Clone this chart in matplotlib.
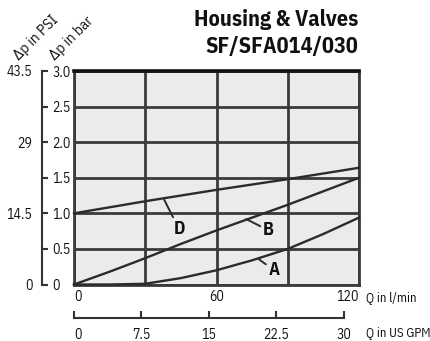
import matplotlib
matplotlib.use('Agg')
import matplotlib.pyplot as plt

FONT = ['IBM Plex Sans Condensed', 'Roboto Condensed', 'PT Sans Narrow', 'DejaVu Sans']
plt.rcParams['font.family'] = FONT

# ---- data ----
flow_lpm = [0, 15, 30, 45, 60, 75, 90, 105, 120]
curve_A = [0, 0.0, 0.01, 0.09, 0.2, 0.34, 0.5, 0.71, 0.94]
curve_B = [0, 0.18, 0.37, 0.57, 0.76, 0.94, 1.12, 1.31, 1.5]
curve_D = [1.0, 1.085, 1.17, 1.25, 1.33, 1.405, 1.48, 1.56, 1.64]

curve_names = ['A', 'B', 'D']
# point on the curve where the leader starts, and label centre (data units)
leader_xy = {'D': (38, 1.19), 'B': (72.5, 0.92), 'A': (77.6, 0.36)}
label_xy = {'D': (44.2, 0.78), 'B': (81.9, 0.76), 'A': (84.3, 0.20)}

q_grid = [0, 30, 60, 90, 120]
q_labels = ['0', '', '60', '', '120']
bar_ticks = [0, 0.5, 1.0, 1.5, 2.0, 2.5, 3.0]
bar_labels = ['0', '0.5', '1.0', '1.5', '2.0', '2.5', '3.0']
psi_ticks = [0, 14.5, 29, 43.5]
psi_labels = ['0', '14.5', '29', '43.5']
gpm_ticks = [0, 7.5, 15, 22.5, 30]
gpm_labels = ['0', '7.5', '15', '22.5', '30']
LPM_PER_GPM = 3.785

title_lines = ['Housing & Valves', 'SF/SFA014/030']

# ---- layout ----
W, H = 430, 341
fig = plt.figure(figsize=(W / 100, H / 100), dpi=100)
fig.patch.set_facecolor('white')
L, R, T, B = 74, 359, 71, 284.5
GRID = '#3a3a3a'
INK = '#2b2b2b'
FS = 10

ax = fig.add_axes([L / W, 1 - B / H, (R - L) / W, (B - T) / H])
ax.set_facecolor('#ebebeb')
ax.set_xlim(0, 120)
ax.set_ylim(0, 3)
ax.set_xticks(q_grid)
ax.set_xticklabels(q_labels)
ax.set_yticks(bar_ticks)
ax.set_yticklabels([])
ax.tick_params(length=0)
ax.tick_params(axis='x', pad=4, labelsize=FS, colors='#111')
xl = ax.get_xticklabels()
xl[0].set_ha('left')
xl[-1].set_ha('right')
ax.grid(True, color=GRID, lw=2)
ax.set_axisbelow(True)
for s in ax.spines.values():
    s.set_color(GRID)
    s.set_linewidth(2)
ax.spines['top'].set_color('#111')
ax.spines['top'].set_linewidth(2.6)

series = {'A': curve_A, 'B': curve_B, 'D': curve_D}
for name in curve_names:
    ax.plot(flow_lpm, series[name], color=INK, lw=1.7, zorder=3, clip_on=False)
    ax.annotate(name, xy=leader_xy[name], xytext=label_xy[name],
                ha='center', va='center', fontsize=13, fontweight='bold',
                color='#111',
                arrowprops=dict(arrowstyle='-', color=INK, lw=1.4,
                                shrinkA=0, shrinkB=0))

# left double scale (bar on right of spine, PSI on left)
axL = fig.add_axes([42 / W, 1 - B / H, 0.0001, (B - T) / H])
axL.set_ylim(0, 3)
axL.set_xticks([])
for k in ['top', 'right', 'bottom']:
    axL.spines[k].set_visible(False)
axL.spines['left'].set_color('#333')
axL.spines['left'].set_linewidth(1.5)
axL.set_yticks(bar_ticks)
axL.set_yticklabels(bar_labels)
axL.tick_params(axis='y', direction='in', length=4, width=1.5, color='#333',
                pad=-7.5, labelsize=FS, labelcolor='#111')
for t in axL.get_yticklabels():
    t.set_ha('left')

axP = fig.add_axes([42 / W, 1 - B / H, 0.0001, (B - T) / H])
axP.patch.set_visible(False)
axP.set_ylim(0, 43.5)
axP.set_xticks([])
for s in axP.spines.values():
    s.set_visible(False)
axP.set_yticks(psi_ticks)
axP.set_yticklabels(psi_labels)
axP.tick_params(axis='y', length=0, pad=7, labelsize=FS, labelcolor='#111')

# GPM scale below
axG = fig.add_axes([L / W, 1 - 318 / H, (R - L) / W, 0.0001])
axG.set_xlim(0, 120 / LPM_PER_GPM)
axG.set_yticks([])
for k in ['top', 'right', 'left']:
    axG.spines[k].set_visible(False)
axG.spines['bottom'].set_bounds(0, 30)
axG.spines['bottom'].set_color('#333')
axG.spines['bottom'].set_linewidth(1.5)
axG.set_xticks(gpm_ticks)
axG.set_xticklabels(gpm_labels)
axG.tick_params(axis='x', direction='in', length=5, width=1.5, color='#333',
                pad=7, labelsize=FS, labelcolor='#111')
axG.get_xticklabels()[0].set_ha('left')

# axis unit texts
fig.text(366 / W, 1 - 298 / H, 'Q in l/min', ha='left', va='center',
         fontsize=9.2, color='#111')
fig.text(366 / W, 1 - 333 / H, 'Q in US GPM', ha='left', va='center',
         fontsize=9.2, color='#111')
fig.text(19 / W, 1 - 61 / H, 'Δp in PSI', rotation=45, rotation_mode='anchor',
         ha='left', va='baseline', fontsize=FS + 1, color='#111')
fig.text(55 / W, 1 - 61 / H, 'Δp in bar', rotation=45, rotation_mode='anchor',
         ha='left', va='baseline', fontsize=FS + 1, color='#111')

# title
fig.text(358 / W, 1 - 26 / H, title_lines[0], ha='right', va='baseline',
         fontsize=16, fontweight='bold', color='#111')
fig.text(358 / W, 1 - 53 / H, title_lines[1], ha='right', va='baseline',
         fontsize=16, fontweight='bold', color='#111')

fig.savefig('out.png', dpi=100)
